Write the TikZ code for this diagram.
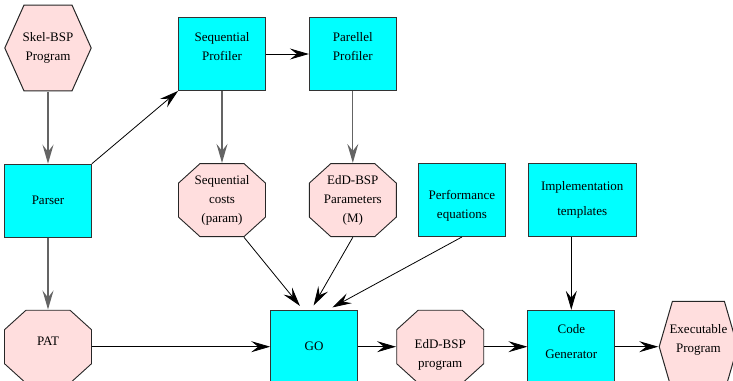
\documentclass[tikz,border=0pt]{standalone}
\usepackage{fontspec}
\setmainfont{Liberation Serif}
\usepackage{xcolor}
\usepackage{tikz}
\usetikzlibrary{positioning, arrows.meta}

\definecolor{boxcyan}{RGB}{0,255,255}
\definecolor{datapink}{RGB}{255,222,222}
\definecolor{edgegray}{RGB}{100,100,100}

\tikzset{
    cx/.initial=22pt,
    cy/.initial=20pt,
}

\begin{document}
\begin{tikzpicture}[
    x=1pt, y=1pt,
    >={Stealth[length=19pt, width=11pt, inset=7pt]},
    base/.style={font=\fontsize{13}{19}\selectfont, align=center, inner sep=2pt},
    proc/.style={base, draw=black!80, line width=0.8pt, rectangle, fill=boxcyan, minimum width=87pt, minimum height=73pt},
    % octagon drawn inside the node's box
    data/.style={base, minimum width=88pt, minimum height=74pt,
        path picture={
            \def\bb{path picture bounding box}
            \filldraw[fill=datapink, draw=black!85, line width=0.9pt]
                ([xshift=\pgfkeysvalueof{/tikz/cx}, yshift=-0.5pt]\bb.north west)
             -- ([xshift=-\pgfkeysvalueof{/tikz/cx}, yshift=-0.5pt]\bb.north east)
             -- ([xshift=-0.5pt, yshift=-\pgfkeysvalueof{/tikz/cy}]\bb.north east)
             -- ([xshift=-0.5pt, yshift=\pgfkeysvalueof{/tikz/cy}]\bb.south east)
             -- ([xshift=-\pgfkeysvalueof{/tikz/cx}, yshift=0.5pt]\bb.south east)
             -- ([xshift=\pgfkeysvalueof{/tikz/cx}, yshift=0.5pt]\bb.south west)
             -- ([xshift=0.5pt, yshift=\pgfkeysvalueof{/tikz/cy}]\bb.south west)
             -- ([xshift=0.5pt, yshift=-\pgfkeysvalueof{/tikz/cy}]\bb.north west)
             -- cycle;
        }},
    % hexagon drawn inside the node's box
    prog/.style={base, minimum width=88pt, minimum height=87pt, cx=20pt,
        path picture={
            \def\bb{path picture bounding box}
            \filldraw[fill=datapink, draw=black!85, line width=1pt]
                ([xshift=\pgfkeysvalueof{/tikz/cx}, yshift=-0.6pt]\bb.north west)
             -- ([xshift=-\pgfkeysvalueof{/tikz/cx}, yshift=-0.6pt]\bb.north east)
             -- ([xshift=-0.8pt]\bb.east)
             -- ([xshift=-\pgfkeysvalueof{/tikz/cx}, yshift=0.6pt]\bb.south east)
             -- ([xshift=\pgfkeysvalueof{/tikz/cx}, yshift=0.6pt]\bb.south west)
             -- ([xshift=0.8pt]\bb.west)
             -- cycle;
        }},
    arr/.style={->, line width=0.8pt, black},
    garr/.style={->, line width=1.3pt, edgegray},
]
\useasboundingbox (0,0) rectangle (733,-380);

% Top row
\node[prog] (skel) at (48,-48) {Skel-BSP\\Program};
\node[proc, text depth=16pt] (seqprof) at (222,-54) {Sequential\\Profiler};
\node[proc, text depth=16pt, right=43pt of seqprof] (parprof) {Parellel\\Profiler};

% Middle row
\node[proc, below=72pt of skel] (parser) {Parser};
\node[data, below=72pt of seqprof] (seqcost) {Sequential\\costs\\(param)};
\node[data, below=72pt of parprof] (params) {EdD-BSP\\Parameters\\(M)};
\node[proc, text height=40pt, right=21pt of params] (perfeq) {Performance\\equations};
\node[proc, right=22pt of perfeq, minimum width=108pt] (impl) {Implementation\\[6pt]templates};

% Bottom row
\node[data, text depth=10pt, below=72pt of parser] (pat) {PAT};
\node[proc, right=178pt of pat] (go) {GO};
\node[data, text height=44pt, right=38pt of go] (edd) {EdD-BSP\\program};
\node[proc, text depth=10pt, right=43pt of edd] (codegen) {Code\\[6pt]Generator};
\node[prog, text depth=16pt, right=43pt of codegen, minimum width=80pt, minimum height=92pt, cx=14pt] (exec) {Executable\\Program};

% Arrows
\draw[garr] (skel) -- (parser);
\draw[garr] (parser) -- (pat);
\draw[garr] (seqprof) -- (seqcost);
\draw[garr] (parprof) -- (params);
\draw[arr] (parser.north east) -- (seqprof.south west);
\draw[arr] (seqprof) -- (parprof);
\draw[arr, shorten >=5pt] ([xshift=22pt]seqcost.south) -- ([xshift=-11pt]go.north);
\draw[arr, shorten >=5pt] (params.south) -- ([xshift=-3pt]go.north);
\draw[arr, shorten >=5pt] (perfeq.south) -- ([xshift=14pt]go.north);
\draw[arr] (pat) -- (go);
\draw[arr] (go) -- (edd);
\draw[arr] (edd) -- (codegen);
\draw[arr] (codegen) -- (exec);
\draw[arr] (codegen.north |- impl.south) -- (codegen.north);

\end{tikzpicture}
\end{document}
